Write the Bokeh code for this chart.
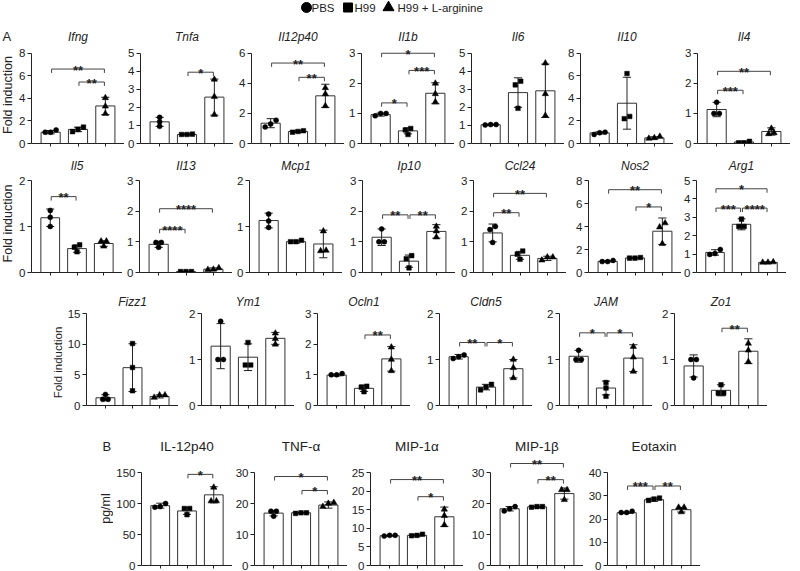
import numpy as np
from bokeh.plotting import figure
from bokeh.layouts import column, row
from bokeh.models import Range1d, FixedTicker
from bokeh.core.properties import value
from bokeh.embed import file_html
from bokeh.resources import INLINE

# ---------------- data ----------------
groups = ["PBS", "H99", "H99 + L-arginine"]
group_markers = ["circle", "square", "triangle"]

titles = ["Ifng", "Tnfa", "Il12p40", "Il1b", "Il6", "Il10", "Il4",
          "Il5", "Il13", "Mcp1", "Ip10", "Ccl24", "Nos2", "Arg1",
          "Fizz1", "Ym1", "Ocln1", "Cldn5", "JAM", "Zo1",
          "IL-12p40", "TNF-\u03b1", "MIP-1\u03b1", "MIP-1\u03b2", "Eotaxin"]

y_max = [8, 5, 6, 3, 5, 8, 3,
         2, 3, 2, 3, 3, 8, 5,
         15, 2, 3, 2, 2, 2,
         150, 30, 25, 30, 40]
y_step = [2, 1, 2, 1, 1, 2, 1,
          1, 1, 1, 1, 1, 2, 1,
          5, 1, 1, 1, 1, 1,
          50, 10, 5, 10, 10]

means = [[1.0, 1.25, 3.33], [1.2, 0.5, 2.57], [1.35, 0.8, 3.17], [0.96, 0.42, 1.67],
         [1.04, 2.82, 2.92], [0.94, 3.57, 0.5], [1.13, 0.05, 0.4],
         [1.19, 0.52, 0.63], [0.92, 0.03, 0.11], [1.13, 0.67, 0.62], [1.15, 0.37, 1.34],
         [1.29, 0.56, 0.46], [0.97, 1.26, 3.59], [1.09, 2.62, 0.55],
         [1.26, 6.17, 1.48], [1.29, 1.05, 1.46], [0.99, 0.56, 1.52], [1.06, 0.4, 0.8],
         [1.07, 0.38, 1.03], [0.86, 0.33, 1.18],
         [96.5, 88.0, 114.0], [16.9, 17.0, 19.5], [8.0, 8.1, 13.1], [18.3, 18.9, 23.2],
         [22.7, 28.3, 24.0]]

sds = [[0.15, 0.2, 0.77], [0.25, 0.04, 1.0], [0.3, 0.07, 0.77], [0.05, 0.1, 0.35],
       [0.03, 0.82, 1.48], [0.1, 2.3, 0.1], [0.24, 0.03, 0.12],
       [0.19, 0.08, 0.06], [0.1, 0.01, 0.04], [0.16, 0.03, 0.3], [0.27, 0.2, 0.22],
       [0.29, 0.13, 0.07], [0.05, 0.03, 1.15], [0.15, 0.3, 0.03],
       [0.5, 3.9, 0.25], [0.49, 0.29, 0.13], [0.03, 0.1, 0.4], [0.05, 0.06, 0.2],
       [0.13, 0.15, 0.29], [0.24, 0.12, 0.27],
       [4.0, 5.5, 13.0], [0.9, 0.15, 1.0], [0.1, 0.2, 2.6], [0.7, 0.1, 1.8],
       [0.3, 0.7, 1.0]]

points = [
    [[1.0, 1.2, 1.0], [1.45, 1.25, 1.05], [4.05, 3.3, 2.65]],
    [[1.45, 1.2, 0.95], [0.5, 0.52, 0.5], [3.55, 2.6, 1.6]],
    [[1.55, 1.3, 1.1], [0.75, 0.85, 0.8], [3.7, 3.3, 2.5]],
    [[0.92, 1.0, 1.0], [0.5, 0.45, 0.3], [2.0, 1.65, 1.38]],
    [[1.03, 1.05, 1.05], [3.45, 3.25, 1.95], [4.45, 2.75, 1.55]],
    [[0.8, 1.0, 0.95], [6.2, 2.2, 2.4], [0.45, 0.62, 0.5]],
    [[1.37, 1.0, 1.0], [0.02, 0.07, 0.02], [0.5, 0.32, 0.35]],
    [[1.35, 1.2, 1.0], [0.6, 0.55, 0.45], [0.68, 0.68, 0.57]],
    [[0.98, 0.98, 0.82], [0.03, 0.03, 0.03], [0.1, 0.15, 0.09]],
    [[1.27, 1.12, 0.98], [0.7, 0.67, 0.67], [0.9, 0.47, 0.48]],
    [[1.42, 1.0, 1.0], [0.55, 0.45, 0.15], [1.5, 1.35, 1.15]],
    [[1.5, 1.4, 0.98], [0.7, 0.6, 0.43], [0.5, 0.5, 0.4]],
    [[0.95, 1.05, 0.95], [1.25, 1.3, 1.25], [4.3, 3.95, 2.5]],
    [[1.25, 0.98, 1.03], [2.9, 2.5, 2.5], [0.55, 0.57, 0.55]],
    [[1.8, 1.0, 1.0], [10.1, 6.2, 2.4], [1.3, 1.7, 1.7]],
    [[1.83, 1.0, 1.0], [1.37, 0.88, 0.88], [1.57, 1.45, 1.33]],
    [[1.0, 1.04, 1.0], [0.63, 0.6, 0.45], [1.9, 1.5, 1.13]],
    [[1.1, 1.06, 1.02], [0.46, 0.4, 0.34], [1.0, 0.82, 0.6]],
    [[1.2, 1.0, 1.0], [0.5, 0.38, 0.2], [1.28, 1.05, 0.74]],
    [[1.0, 1.0, 0.6], [0.45, 0.27, 0.27], [1.35, 1.2, 0.95]],
    [[100.0, 95.0, 94.0], [92.0, 92.0, 82.0], [126.0, 104.0, 104.0]],
    [[17.5, 17.5, 15.9], [16.8, 17.0, 17.0], [20.3, 20.0, 19.0]],
    [[7.9, 8.1, 8.1], [8.0, 8.4, 8.1], [15.1, 13.4, 10.9]],
    [[19.0, 18.3, 17.6], [18.8, 19.0, 19.0], [24.4, 24.4, 21.2]],
    [[22.8, 23.3, 22.8], [29.0, 28.0, 28.6], [25.0, 25.0, 23.0]],
]

# significance brackets: (group a, group b, height, label)
brackets = [
    [(0, 2, 6.6, "**"), (1, 2, 5.45, "**")],
    [(1, 2, 3.95, "*")],
    [(0, 2, 5.35, "**"), (1, 2, 4.4, "**")],
    [(0, 1, 1.35, "*"), (1, 2, 2.43, "***"), (0, 2, 3.0, "*")],
    [],
    [],
    [(0, 1, 1.77, "***"), (0, 2, 2.4, "**")],
    [(0, 1, 1.65, "**")],
    [(0, 1, 1.41, "****"), (0, 2, 2.08, "****")],
    [],
    [(0, 1, 1.88, "**"), (1, 2, 1.88, "**")],
    [(0, 1, 1.95, "**"), (0, 2, 2.58, "**")],
    [(0, 2, 7.2, "**"), (1, 2, 5.7, "*")],
    [(0, 1, 3.5, "***"), (1, 2, 3.5, "****"), (0, 2, 4.55, "*")],
    [],
    [],
    [(1, 2, 2.3, "**")],
    [(0, 1, 1.37, "**"), (1, 2, 1.37, "*")],
    [(0, 1, 1.58, "*"), (1, 2, 1.58, "*")],
    [(1, 2, 1.68, "**")],
    [(1, 2, 147.0, "*")],
    [(0, 2, 28.7, "*"), (1, 2, 24.2, "*")],
    [(0, 2, 23.1, "**"), (1, 2, 18.5, "*")],
    [(0, 2, 32.9, "**"), (1, 2, 27.7, "**")],
    [(0, 1, 34.2, "***"), (1, 2, 34.2, "**")],
]

panel_rows = [7, 7, 6, 5]
row_ylabels = ["Fold induction", "Fold induction", "Fold induction", "pg/ml"]
row_letters = ["A", "", "", "B"]

# ---------------- layout / style ----------------
FONT = "Liberation Sans"
INK = "#222222"
FW = 93
XR = (0.3, 3.7)

# ylab = (x centre, height of label centre above the zero line, font size)
ROWS = [
    dict(h=128, top_b=17, bot_b=10, span=93, side=16, lefts=[31, 140, 251, 361, 471, 580, 697],
         italic=True, title_size="12px", ylab=(7, 50, "12.5px"), letter_x=2, title_standoff=3),
    dict(h=132, top_b=22, bot_b=13, span=92, side=16, lefts=[29, 139, 249, 362, 473, 588, 693],
         italic=True, title_size="12px", ylab=(7, 49, "12.5px"), letter_x=None, title_standoff=6),
    dict(h=135, top_b=24, bot_b=15, span=92, side=64, lefts=[85, 201, 317, 439, 559, 674],
         italic=True, title_size="12px", ylab=(57, 43, "11.5px"), letter_x=None, title_standoff=2),
    dict(h=151, top_b=34, bot_b=6, span=93, side=113, lefts=[139, 254, 370, 490, 607],
         italic=False, title_size="13.5px", ylab=(105, 57, "12.5px"), letter_x=102, title_standoff=1),
]

MARKER_SIZE = [5.0, 4.6, 6.3]


def swarm_offsets(vals, pxu, step=0.2, min_px=4.5):
    order = sorted(range(len(vals)), key=lambda i: vals[i])
    clusters, cur = [], [order[0]]
    for a, b in zip(order[:-1], order[1:]):
        if abs(vals[b] - vals[a]) * pxu < min_px:
            cur.append(b)
        else:
            clusters.append(cur)
            cur = [b]
    clusters.append(cur)
    offs = [0.0] * len(vals)
    for c in clusters:
        n = len(c)
        for r, i in enumerate(c):
            offs[i] = (r - (n - 1) / 2) * step
    return offs


def style_title(p, spec, italic, size):
    p.title.text_font = FONT
    p.title.text_font_size = size
    p.title.text_font_style = "italic" if italic else "normal"
    p.title.text_color = INK
    p.title.standoff = spec["title_standoff"]


def make_panel(k, left_border, spec):
    ymax = y_max[k]
    frame_h = spec["h"] - spec["top_b"] - spec["bot_b"]
    ytop = ymax * frame_h / spec["span"]
    pxu = frame_h / ytop
    p = figure(width=left_border + FW, height=spec["h"], x_range=Range1d(*XR), y_range=Range1d(0, ytop),
               min_border_left=left_border, min_border_right=0, min_border_top=spec["top_b"],
               min_border_bottom=spec["bot_b"], output_backend="svg", toolbar_location=None, tools="",
               title=titles[k])
    p.title.align = "center"
    style_title(p, spec, spec["italic"], spec["title_size"])
    p.outline_line_color = None
    p.xgrid.visible = False
    p.ygrid.visible = False
    p.background_fill_color = None
    p.border_fill_color = None

    ya = p.yaxis[0]
    ya.ticker = FixedTicker(ticks=list(np.arange(0, ymax + y_step[k] / 2, y_step[k])))
    ya.bounds = (0, ymax)
    ya.major_tick_out = 4
    ya.major_tick_in = 0
    ya.minor_tick_line_color = None
    ya.major_label_standoff = 2
    ya.major_label_text_font = FONT
    ya.major_label_text_font_size = "11.5px"
    ya.major_label_text_color = INK
    ya.axis_line_color = INK
    ya.major_tick_line_color = INK

    xa = p.xaxis[0]
    xa.ticker = FixedTicker(ticks=[1, 2, 3])
    xa.major_label_overrides = {1: "", 2: "", 3: ""}
    xa.major_label_text_font_size = "1px"
    xa.major_label_standoff = 0
    xa.major_tick_out = 3
    xa.major_tick_in = 0
    xa.minor_tick_line_color = None
    xa.axis_line_color = INK
    xa.major_tick_line_color = INK

    xs = np.array([1, 2, 3], dtype=float)
    m = np.array(means[k])
    s = np.array(sds[k])
    p.vbar(x=xs, top=m, width=0.7, bottom=0, fill_color="white", line_color="#333333", line_width=1)
    cap = 0.15
    p.segment(x0=xs, y0=m - s, x1=xs, y1=m + s, line_color=INK, line_width=1)
    p.segment(x0=xs - cap, y0=m + s, x1=xs + cap, y1=m + s, line_color=INK, line_width=1)
    p.segment(x0=xs - cap, y0=m - s, x1=xs + cap, y1=m - s, line_color=INK, line_width=1)

    for g in range(3):
        vals = points[k][g]
        offs = swarm_offsets(vals, pxu)
        px = [g + 1 + o for o in offs]
        p.scatter(x=px, y=vals, marker=group_markers[g], size=MARKER_SIZE[g],
                  fill_color="black", line_color="black", line_width=0.5)

    drop = 4.0 / pxu
    gap = 0.035
    for (a, b, h, lab) in brackets[k]:
        x0 = a + 1 + gap
        x1 = b + 1 - gap
        p.segment(x0=[x0, x0, x1], y0=[h, h, h], x1=[x1, x0, x1], y1=[h, h - drop, h - drop],
                  line_color="#444444", line_width=1)
        p.text(x=[(a + b) / 2 + 1], y=[h], text=[lab], text_align="center", text_baseline="alphabetic",
               y_offset=1, text_font=value(FONT), text_font_size=value("13px"), text_color=INK,
               text_font_style="bold")
    return p


def side_fig(ri, spec):
    w, h = spec["side"], spec["h"]
    frame_h = h - spec["top_b"] - spec["bot_b"]
    title = row_letters[ri] if spec["letter_x"] is not None else None
    p = figure(width=w, height=h, x_range=Range1d(0, w), y_range=Range1d(0, frame_h),
               min_border_left=0, min_border_right=0, min_border_top=spec["top_b"],
               min_border_bottom=spec["bot_b"], x_axis_location=None, y_axis_location=None,
               output_backend="svg", toolbar_location=None, tools="", title=title)
    if title:
        p.title.align = "left"
        p.title.offset = spec["letter_x"]
        style_title(p, spec, False, "13px")
    p.grid.visible = False
    p.outline_line_color = None
    p.background_fill_color = None
    p.border_fill_color = None
    lx, ly, lsize = spec["ylab"]
    p.text(x=[lx], y=[ly], text=[row_ylabels[ri]], angle=np.pi / 2, text_align="center",
           text_baseline="middle", text_font=value(FONT), text_font_size=value(lsize), text_color=INK)
    return p


def header():
    w, h = 800, 25
    p = figure(width=w, height=h, x_range=Range1d(0, w), y_range=Range1d(0, h), min_border=0,
               x_axis_location=None, y_axis_location=None, output_backend="svg", toolbar_location=None,
               tools="")
    p.grid.visible = False
    p.outline_line_color = None
    yc = h - 7
    mx = [306, 347.5, 388]
    tx = [311, 354, 397]
    sz = [10, 9, 11]
    for g in range(3):
        p.scatter(x=[mx[g]], y=[yc], marker=group_markers[g], size=sz[g], fill_color="black", line_color="black")
        p.text(x=[tx[g]], y=[yc], text=[groups[g]], text_align="left", text_baseline="middle",
               text_font=value(FONT), text_font_size=value("11.5px"), text_color=INK)
    return p


children = [header()]
k = 0
for ri, spec in enumerate(ROWS):
    figs = [side_fig(ri, spec)]
    prev_right = spec["side"]
    for j in range(panel_rows[ri]):
        left = spec["lefts"][j]
        figs.append(make_panel(k, left - prev_right, spec))
        prev_right = left + FW
        k += 1
    children.append(row(*figs, spacing=0))

layout = column(*children, spacing=0)
open("out.html", "w").write(file_html(layout, INLINE))
